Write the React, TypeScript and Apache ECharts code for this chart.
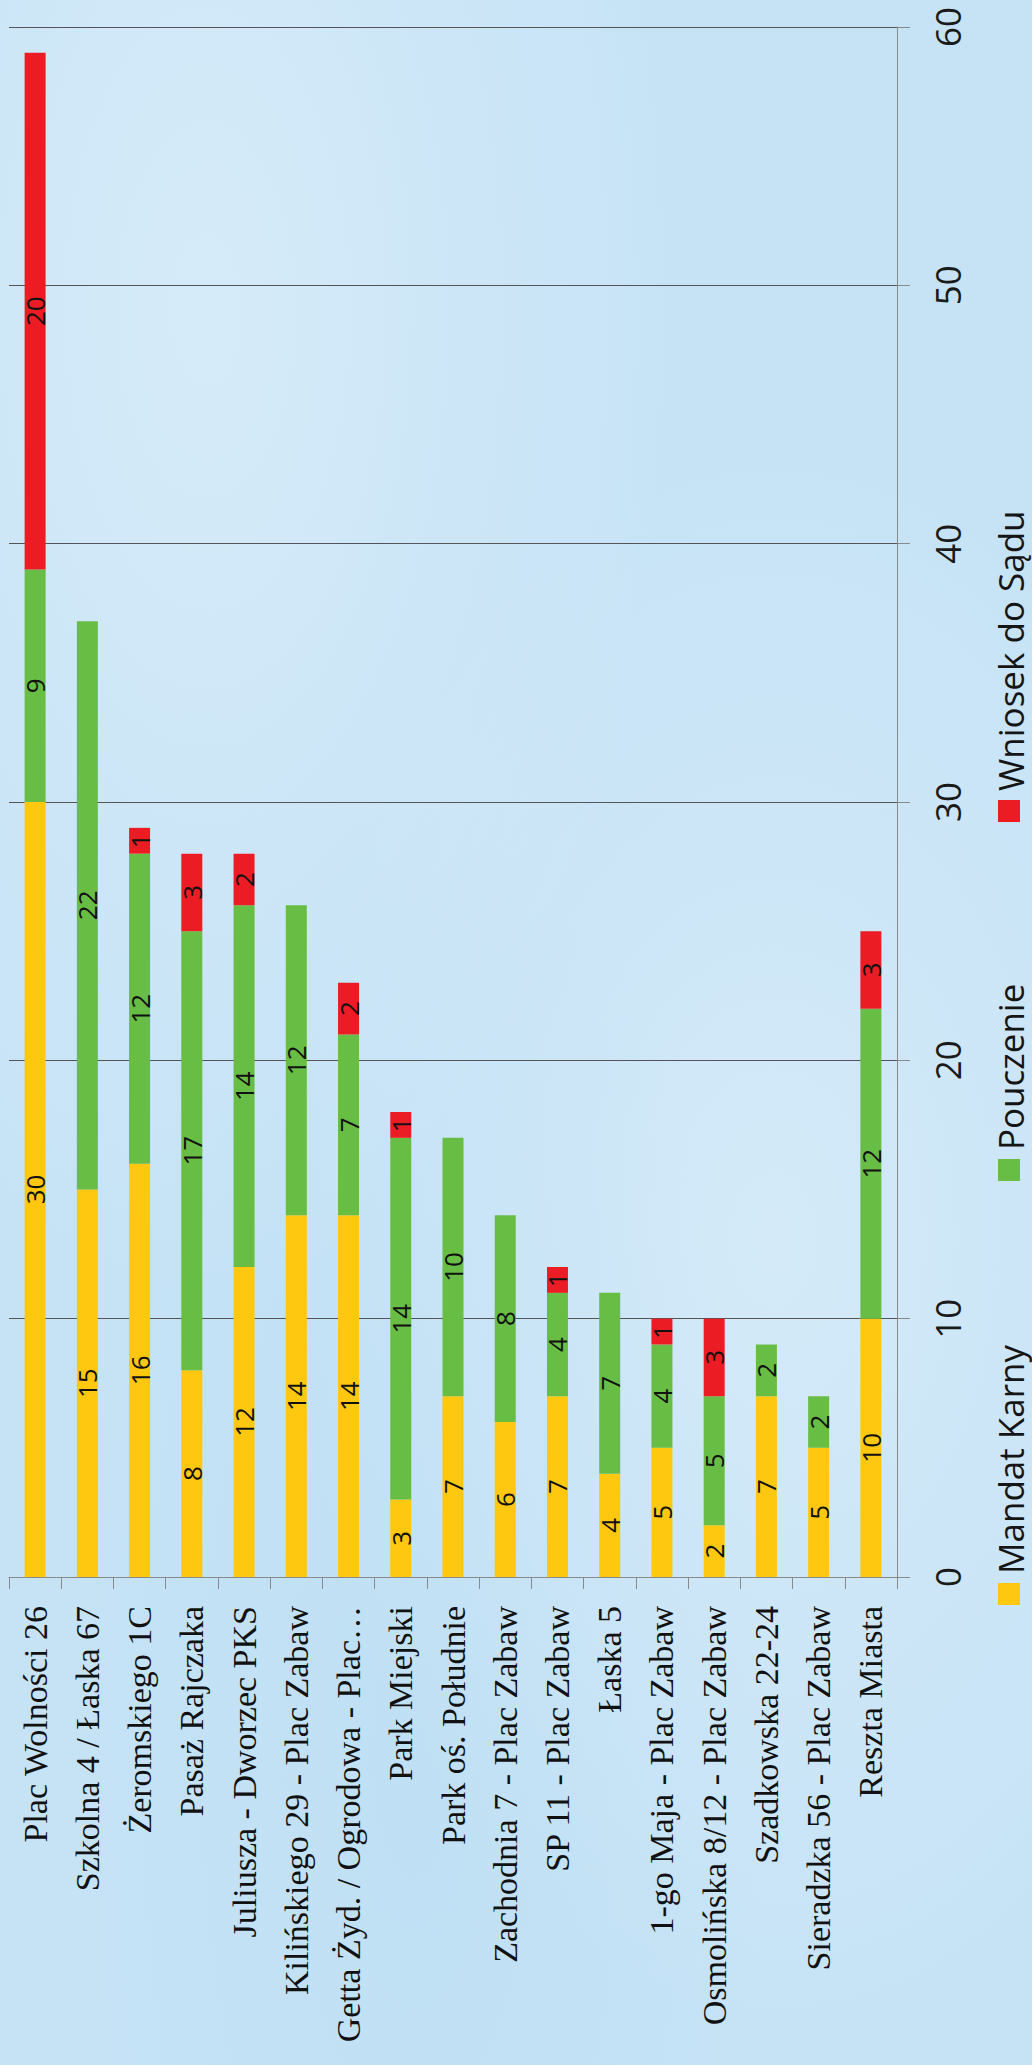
import React, { useEffect, useRef } from "react";
import * as echarts from "echarts";

const categories = [
  "Plac Wolności 26",
  "Szkolna 4 / Łaska 67",
  "Żeromskiego 1C",
  "Pasaż Rajczaka",
  "Juliusza - Dworzec PKS",
  "Kilińskiego 29 - Plac Zabaw",
  "Getta Żyd. / Ogrodowa - Plac…",
  "Park Miejski",
  "Park oś. Południe",
  "Zachodnia 7 - Plac Zabaw",
  "SP 11 - Plac Zabaw",
  "Łaska 5",
  "1-go Maja - Plac Zabaw",
  "Osmolińska 8/12 - Plac Zabaw",
  "Szadkowska 22-24",
  "Sieradzka 56 - Plac Zabaw",
  "Reszta Miasta",
];

const mandatKarny = [30, 15, 16, 8, 12, 14, 14, 3, 7, 6, 7, 4, 5, 2, 7, 5, 10];
const pouczenie = [9, 22, 12, 17, 14, 12, 7, 14, 10, 8, 4, 7, 4, 5, 2, 2, 12];
const wniosekDoSadu = [20, 0, 1, 3, 2, 0, 2, 1, 0, 0, 1, 0, 1, 3, 0, 0, 3];

const seriesNames = ["Mandat Karny", "Pouczenie", "Wniosek do Sądu"];
const seriesColors = ["#FDC80F", "#68BD45", "#EC1C24"];

const valueTicks = { min: 0, max: 60, interval: 10 };

export default function App() {
  const ref = useRef<HTMLDivElement>(null);

  useEffect(() => {
    if (!ref.current) return;
    const chart = echarts.init(ref.current, undefined, { renderer: "svg" });

    const seriesData = [mandatKarny, pouczenie, wniosekDoSadu];
    const legendSquareTops = [1583, 1159, 800];

    const legendGraphics: any[] = [];
    seriesNames.forEach((name, i) => {
      const top = legendSquareTops[i];
      legendGraphics.push({
        type: "rect",
        shape: { x: 998, y: top, width: 22, height: 22 },
        style: { fill: seriesColors[i] },
        silent: true,
      });
      legendGraphics.push({
        type: "text",
        x: 1010,
        y: top - 9,
        rotation: Math.PI / 2,
        style: {
          text: name,
          fill: "#151515",
          font: '35px "Open Sans"',
          textAlign: "left",
          textVerticalAlign: "middle",
        },
        silent: true,
      });
    });

    chart.setOption({
      animation: false,
      backgroundColor: "transparent",
      grid: { left: 9, right: 135, top: 27, bottom: 488, containLabel: false },
      xAxis: {
        type: "category",
        data: categories,
        axisLine: { show: true, lineStyle: { color: "#8a8a8a", width: 1 } },
        axisTick: { show: true, length: 12, lineStyle: { color: "#8a8a8a" } },
        axisLabel: {
          interval: 0,
          rotate: 90,
          margin: 29,
          fontFamily: '"Liberation Serif", serif',
          fontSize: 34,
          color: "#111",
        },
        splitLine: { show: false },
      },
      yAxis: {
        type: "value",
        position: "right",
        min: valueTicks.min,
        max: valueTicks.max,
        interval: valueTicks.interval,
        axisLine: { show: true, lineStyle: { color: "#8a8a8a", width: 1 } },
        axisTick: { show: true, length: 13, lineStyle: { color: "#8a8a8a" } },
        splitLine: { show: true, lineStyle: { color: "#555", width: 1 } },
        axisLabel: {
          rotate: 90,
          margin: 33,
          fontFamily: '"Open Sans", sans-serif',
          fontSize: 35,
          color: "#1a1a1a",
        },
      },
      series: seriesNames.map((name, i) => ({
        name,
        type: "bar",
        stack: "total",
        barWidth: 21,
        data: seriesData[i],
        itemStyle: { color: seriesColors[i] },
        label: {
          show: true,
          position: "inside",
          rotate: 90,
          fontFamily: '"Open Sans", sans-serif',
          fontSize: 26,
          color: "#111",
          formatter: (p: any) => (p.value ? String(p.value) : ""),
        },
      })),
      graphic: legendGraphics,
    });

    return () => {
      chart.dispose();
    };
  }, []);

  return (
    <div
      ref={ref}
      style={{
        position: "absolute",
        left: 0,
        top: 0,
        width: 1032,
        height: 2065,
        background:
          "radial-gradient(ellipse at 20% 15%, rgba(232,244,252,0.45), rgba(232,244,252,0) 40%), radial-gradient(ellipse at 75% 60%, rgba(232,244,252,0.4), rgba(232,244,252,0) 45%), radial-gradient(ellipse at 40% 85%, rgba(175,215,240,0.3), rgba(175,215,240,0) 40%), #c6e3f6",
      }}
    />
  );
}
